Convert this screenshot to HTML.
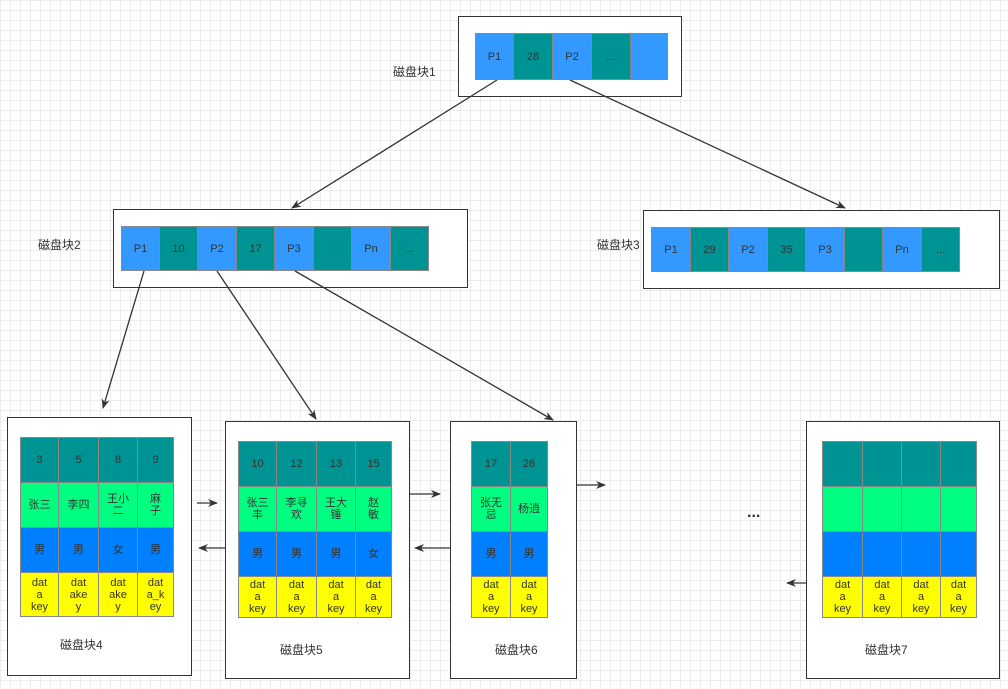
<!DOCTYPE html><html><head><meta charset="utf-8"><style>
body{margin:0;width:1008px;height:689px;position:relative;overflow:hidden;background:#fff;
background-image:linear-gradient(#ececec 1px,transparent 1px),linear-gradient(90deg,#ececec 1px,transparent 1px);background-size:10px 10px;
font-family:"Liberation Sans","Noto Sans CJK SC",sans-serif;color:#333}
.b{position:absolute;border:1.5px solid #333;background:#fff;box-sizing:border-box}
.c{position:absolute;box-sizing:border-box;border:1.5px solid #888;display:flex;align-items:center;justify-content:center;text-align:center;font-size:11px;line-height:12px;color:#333;word-break:break-all}
.bl{background:#3399ff}.t{background:#009393}.g{background:#00ff80}.d{background:#007fff}.y{background:#ffff00}
.l{position:absolute;font-size:12px;color:#333}
svg{position:absolute;left:0;top:0}
</style></head><body>
<div class="b" style="left:458px;top:16px;width:224px;height:81px"></div>
<div class="b" style="left:113px;top:209px;width:355px;height:79px"></div>
<div class="b" style="left:643px;top:210px;width:357px;height:79px"></div>
<div class="b" style="left:7px;top:417px;width:185px;height:259px"></div>
<div class="b" style="left:225px;top:421px;width:185px;height:258px"></div>
<div class="b" style="left:450px;top:421px;width:127px;height:258px"></div>
<div class="b" style="left:806px;top:421px;width:194px;height:258px"></div>

<div class="c bl" style="left:475px;top:33px;width:39px;height:47px">P1</div>
<div class="c t" style="left:513px;top:33px;width:40px;height:47px">28</div>
<div class="c bl" style="left:552px;top:33px;width:40px;height:47px">P2</div>
<div class="c t" style="left:591px;top:33px;width:40px;height:47px">...</div>
<div class="c bl" style="left:630px;top:33px;width:38px;height:47px"></div>
<div class="l" style="left:393px;top:63px">磁盘块1</div>

<div class="c bl" style="left:121px;top:226px;width:39px;height:45px">P1</div>
<div class="c t" style="left:159px;top:226px;width:39px;height:45px">10</div>
<div class="c bl" style="left:197px;top:226px;width:40px;height:45px">P2</div>
<div class="c t" style="left:236px;top:226px;width:39px;height:45px">17</div>
<div class="c bl" style="left:274px;top:226px;width:40px;height:45px">P3</div>
<div class="c t" style="left:313px;top:226px;width:39px;height:45px"></div>
<div class="c bl" style="left:351px;top:226px;width:40px;height:45px">Pn</div>
<div class="c t" style="left:390px;top:226px;width:39px;height:45px">...</div>
<div class="l" style="left:38px;top:236px">磁盘块2</div>

<div class="c bl" style="left:651px;top:227px;width:40px;height:45px">P1</div>
<div class="c t" style="left:690px;top:227px;width:39px;height:45px">29</div>
<div class="c bl" style="left:728px;top:227px;width:40px;height:45px">P2</div>
<div class="c t" style="left:767px;top:227px;width:39px;height:45px">35</div>
<div class="c bl" style="left:805px;top:227px;width:40px;height:45px">P3</div>
<div class="c t" style="left:844px;top:227px;width:39px;height:45px"></div>
<div class="c bl" style="left:882px;top:227px;width:40px;height:45px">Pn</div>
<div class="c t" style="left:921px;top:227px;width:39px;height:45px">...</div>
<div class="l" style="left:597px;top:236px">磁盘块3</div>

<!-- block4 -->
<div class="c t" style="left:20px;top:437px;width:39px;height:46px">3</div>
<div class="c t" style="left:58px;top:437px;width:41px;height:46px">5</div>
<div class="c t" style="left:98px;top:437px;width:40px;height:46px">8</div>
<div class="c t" style="left:137px;top:437px;width:37px;height:46px">9</div>
<div class="c g" style="left:20px;top:482px;width:39px;height:46px">张三</div>
<div class="c g" style="left:58px;top:482px;width:41px;height:46px">李四</div>
<div class="c g" style="left:98px;top:482px;width:40px;height:46px">王小<br>二</div>
<div class="c g" style="left:137px;top:482px;width:37px;height:46px">麻<br>子</div>
<div class="c d" style="left:20px;top:527px;width:39px;height:46px">男</div>
<div class="c d" style="left:58px;top:527px;width:41px;height:46px">男</div>
<div class="c d" style="left:98px;top:527px;width:40px;height:46px">女</div>
<div class="c d" style="left:137px;top:527px;width:37px;height:46px">男</div>
<div class="c y" style="left:20px;top:572px;width:39px;height:45px">dat<br>a<br>key</div>
<div class="c y" style="left:58px;top:572px;width:41px;height:45px">dat<br>ake<br>y</div>
<div class="c y" style="left:98px;top:572px;width:40px;height:45px">dat<br>ake<br>y</div>
<div class="c y" style="left:137px;top:572px;width:37px;height:45px">dat<br>a_k<br>ey</div>
<div class="l" style="left:60px;top:636px">磁盘块4</div>

<!-- block5 -->
<div class="c t" style="left:238px;top:441px;width:39px;height:46px">10</div>
<div class="c t" style="left:276px;top:441px;width:41px;height:46px">12</div>
<div class="c t" style="left:316px;top:441px;width:40px;height:46px">13</div>
<div class="c t" style="left:355px;top:441px;width:37px;height:46px">15</div>
<div class="c g" style="left:238px;top:486px;width:39px;height:46px">张三<br>丰</div>
<div class="c g" style="left:276px;top:486px;width:41px;height:46px">李寻<br>欢</div>
<div class="c g" style="left:316px;top:486px;width:40px;height:46px">王大<br>锤</div>
<div class="c g" style="left:355px;top:486px;width:37px;height:46px">赵<br>敏</div>
<div class="c d" style="left:238px;top:531px;width:39px;height:46px">男</div>
<div class="c d" style="left:276px;top:531px;width:41px;height:46px">男</div>
<div class="c d" style="left:316px;top:531px;width:40px;height:46px">男</div>
<div class="c d" style="left:355px;top:531px;width:37px;height:46px">女</div>
<div class="c y" style="left:238px;top:576px;width:39px;height:42px">dat<br>a<br>key</div>
<div class="c y" style="left:276px;top:576px;width:41px;height:42px">dat<br>a<br>key</div>
<div class="c y" style="left:316px;top:576px;width:40px;height:42px">dat<br>a<br>key</div>
<div class="c y" style="left:355px;top:576px;width:37px;height:42px">dat<br>a<br>key</div>
<div class="l" style="left:280px;top:641px">磁盘块5</div>

<!-- block6 -->
<div class="c t" style="left:471px;top:441px;width:40px;height:46px">17</div>
<div class="c t" style="left:510px;top:441px;width:38px;height:46px">26</div>
<div class="c g" style="left:471px;top:486px;width:40px;height:46px">张无<br>忌</div>
<div class="c g" style="left:510px;top:486px;width:38px;height:46px">杨逍</div>
<div class="c d" style="left:471px;top:531px;width:40px;height:46px">男</div>
<div class="c d" style="left:510px;top:531px;width:38px;height:46px">男</div>
<div class="c y" style="left:471px;top:576px;width:40px;height:42px">dat<br>a<br>key</div>
<div class="c y" style="left:510px;top:576px;width:38px;height:42px">dat<br>a<br>key</div>
<div class="l" style="left:495px;top:641px">磁盘块6</div>

<!-- block7 -->
<div class="c t" style="left:822px;top:441px;width:41px;height:46px"></div>
<div class="c t" style="left:862px;top:441px;width:40px;height:46px"></div>
<div class="c t" style="left:901px;top:441px;width:40px;height:46px"></div>
<div class="c t" style="left:940px;top:441px;width:37px;height:46px"></div>
<div class="c g" style="left:822px;top:486px;width:41px;height:46px"></div>
<div class="c g" style="left:862px;top:486px;width:40px;height:46px"></div>
<div class="c g" style="left:901px;top:486px;width:40px;height:46px"></div>
<div class="c g" style="left:940px;top:486px;width:37px;height:46px"></div>
<div class="c d" style="left:822px;top:531px;width:41px;height:46px"></div>
<div class="c d" style="left:862px;top:531px;width:40px;height:46px"></div>
<div class="c d" style="left:901px;top:531px;width:40px;height:46px"></div>
<div class="c d" style="left:940px;top:531px;width:37px;height:46px"></div>
<div class="c y" style="left:822px;top:576px;width:41px;height:42px">dat<br>a<br>key</div>
<div class="c y" style="left:862px;top:576px;width:40px;height:42px">dat<br>a<br>key</div>
<div class="c y" style="left:901px;top:576px;width:40px;height:42px">dat<br>a<br>key</div>
<div class="c y" style="left:940px;top:576px;width:37px;height:42px">dat<br>a<br>key</div>
<div class="l" style="left:865px;top:641px">磁盘块7</div>
<div class="l" style="left:747px;top:504px;font-size:16px;font-weight:bold">...</div>

<svg width="1008" height="689">
<defs><marker id="a" markerWidth="10" markerHeight="8" refX="9" refY="4" orient="auto" markerUnits="userSpaceOnUse"><path d="M0,0 L10,4 L0,8 L3,4 z" fill="#333"/></marker></defs>
<g stroke="#333" stroke-width="1.3" fill="none" marker-end="url(#a)">
<line x1="497" y1="80" x2="292" y2="208"/>
<line x1="570" y1="80" x2="845" y2="208"/>
<line x1="144" y1="271" x2="103" y2="408"/>
<line x1="217" y1="271" x2="316" y2="419"/>
<line x1="295" y1="271" x2="553" y2="420"/>
<line x1="197" y1="503" x2="217" y2="503"/>
<line x1="225" y1="548" x2="199" y2="548"/>
<line x1="410" y1="494" x2="440" y2="494"/>
<line x1="450" y1="548" x2="415" y2="548"/>
<line x1="577" y1="485" x2="605" y2="485"/>
<line x1="806" y1="583" x2="787" y2="583"/>
</g></svg>
</body></html>
